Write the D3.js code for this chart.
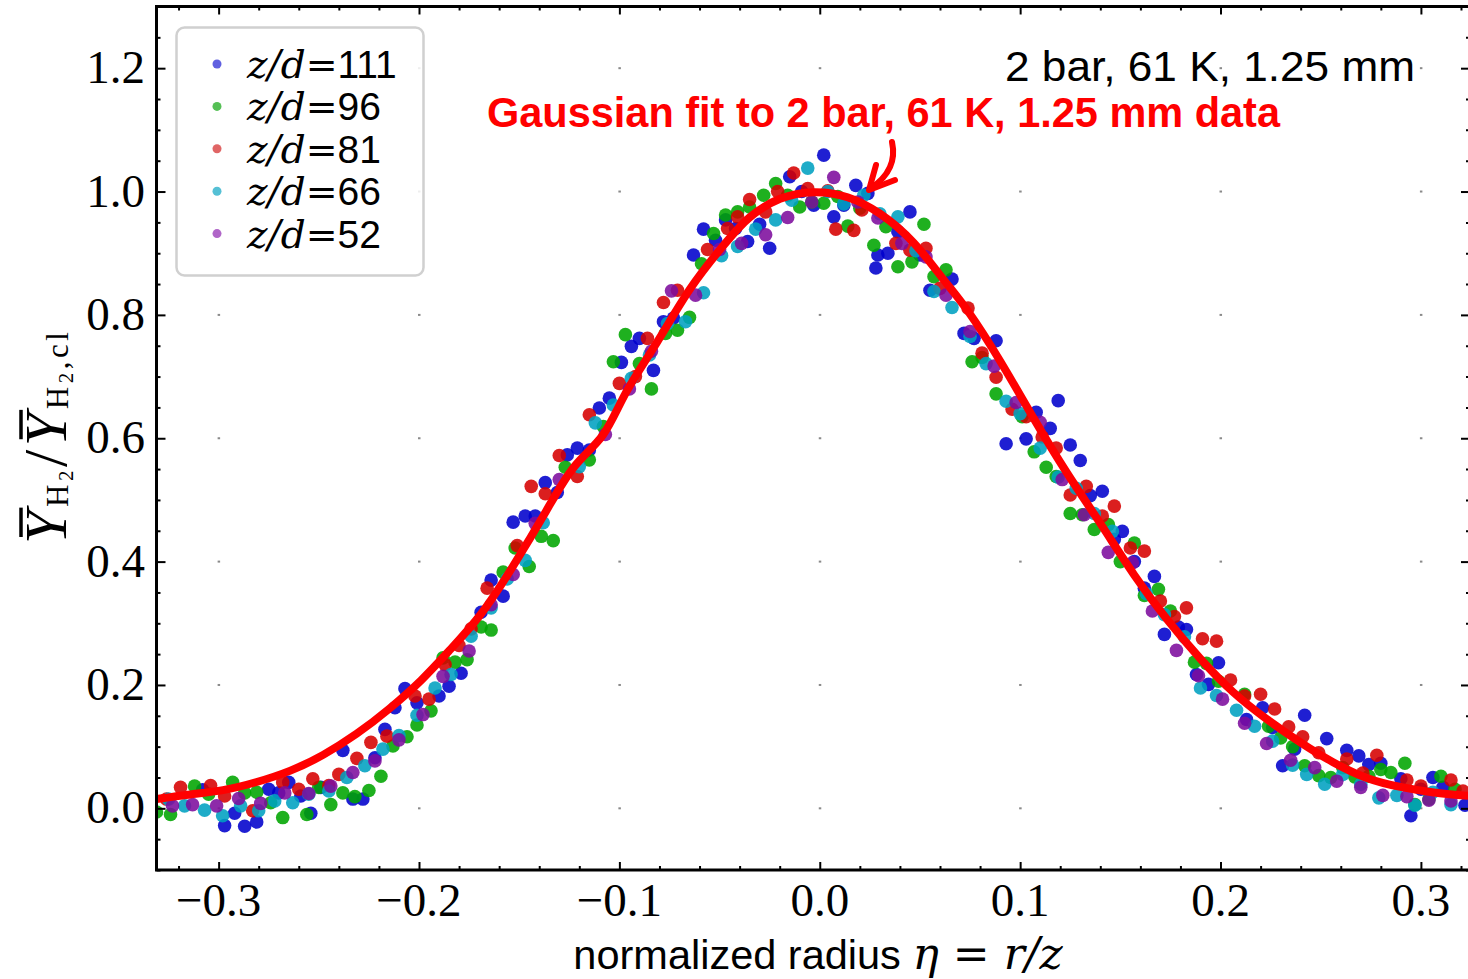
<!DOCTYPE html>
<html>
<head>
<meta charset="utf-8">
<script src="https://cdn.jsdelivr.net/npm/d3@7"></script>
<style>
    html, body { margin: 0; padding: 0; background: #fff; }
    svg { display: block; }
</style>
</head>
<body>
<div class="canvas"></div>
<script>
// Datas: [eta, normalized mass fraction]
const z111 = [
    [-0.308,0.030],[-0.297,-0.028],[-0.292,-0.008],[-0.287,-0.029],[-0.281,-0.022],[-0.275,0.031],
    [-0.270,0.025],[-0.265,0.042],[-0.259,0.020],[-0.254,-0.008],[-0.249,0.034],[-0.238,0.094],
    [-0.233,0.015],[-0.228,0.015],[-0.222,0.082],[-0.217,0.128],[-0.212,0.163],[-0.207,0.194],
    [-0.201,0.171],[-0.190,0.182],[-0.185,0.198],[-0.179,0.219],[-0.169,0.318],[-0.164,0.370],
    [-0.158,0.344],[-0.153,0.464],[-0.147,0.474],[-0.142,0.474],[-0.137,0.528],[-0.131,0.512],
    [-0.126,0.573],[-0.121,0.584],[-0.115,0.581],[-0.110,0.649],[-0.105,0.665],[-0.099,0.723],
    [-0.094,0.749],[-0.090,0.762],[-0.083,0.710],[-0.078,0.789],[-0.073,0.795],[-0.063,0.897],
    [-0.058,0.939],[-0.052,0.921],[-0.047,0.954],[-0.042,0.940],[-0.036,0.919],[-0.030,0.947],
    [-0.025,0.908],[-0.015,1.024],[-0.009,1.000],[-0.003,0.978],[0.002,1.059],[0.007,0.959],
    [0.012,0.978],[0.018,1.010],[0.024,0.997],[0.029,0.897],[0.034,0.900],[0.028,0.876],
    [0.039,0.935],[0.045,0.967],[0.050,0.897],[0.055,0.840],[0.066,0.858],[0.072,0.770],
    [0.077,0.762],[0.088,0.758],[0.093,0.591],[0.103,0.599],[0.108,0.642],[0.115,0.616],
    [0.119,0.661],[0.125,0.589],[0.130,0.564],[0.135,0.507],[0.141,0.514],[0.147,0.436],
    [0.151,0.449],[0.157,0.400],[0.162,0.357],[0.167,0.376],[0.172,0.282],[0.179,0.294],
    [0.183,0.290],[0.188,0.217],[0.194,0.201],[0.199,0.236],[0.213,0.144],[0.221,0.163],
    [0.226,0.131],[0.231,0.069],[0.237,0.096],[0.242,0.151],[0.253,0.113],[0.263,0.094],
    [0.269,0.085],[0.274,0.071],[0.280,0.073],[0.290,0.048],[0.295,-0.012],[0.300,0.031],
    [0.306,0.050],[0.311,0.034],[0.322,0.005]
];
const z96 = [
    [-0.331,-0.006],[-0.324,-0.010],[-0.312,0.036],[-0.305,0.023],[-0.293,0.042],[-0.287,0.025],
    [-0.281,0.026],[-0.274,0.009],[-0.268,-0.015],[-0.256,-0.010],[-0.250,0.034],[-0.244,0.006],
    [-0.238,0.025],[-0.232,0.019],[-0.225,0.029],[-0.219,0.052],[-0.213,0.101],[-0.206,0.116],
    [-0.201,0.135],[-0.194,0.158],[-0.188,0.244],[-0.182,0.237],[-0.176,0.241],[-0.169,0.294],
    [-0.164,0.289],[-0.158,0.383],[-0.152,0.422],[-0.145,0.392],[-0.139,0.441],[-0.133,0.434],
    [-0.127,0.553],[-0.115,0.565],[-0.108,0.619],[-0.103,0.724],[-0.097,0.768],[-0.090,0.721],
    [-0.084,0.680],[-0.077,0.770],[-0.071,0.775],[-0.065,0.796],[-0.059,0.883],[-0.053,0.932],
    [-0.047,0.962],[-0.041,0.967],[-0.035,0.975],[-0.028,0.994],[-0.022,1.013],[-0.016,0.994],
    [-0.010,0.975],[-0.004,0.983],[0.002,0.981],[0.009,0.992],[0.014,0.944],[0.020,0.973],
    [0.027,0.913],[0.033,0.943],[0.039,0.878],[0.046,0.886],[0.052,0.947],[0.057,0.862],
    [0.063,0.873],[0.076,0.724],[0.081,0.731],[0.088,0.672],[0.101,0.635],[0.107,0.578],
    [0.113,0.553],[0.118,0.538],[0.125,0.478],[0.131,0.476],[0.137,0.452],[0.144,0.460],
    [0.150,0.400],[0.157,0.430],[0.162,0.345],[0.169,0.355],[0.175,0.320],[0.187,0.237],
    [0.193,0.235],[0.199,0.206],[0.212,0.185],[0.224,0.133],[0.230,0.114],[0.236,0.100],
    [0.242,0.069],[0.249,0.053],[0.255,0.050],[0.261,0.066],[0.267,0.051],[0.274,0.052],
    [0.280,0.063],[0.285,0.058],[0.292,0.073],[0.297,0.006],[0.304,0.015],[0.310,0.052],
    [0.317,0.031]
];
const z81 = [
    [-0.326,0.015],[-0.319,0.034],[-0.304,0.037],[-0.297,0.020],[-0.283,-0.004],[-0.268,0.042],
    [-0.260,0.031],[-0.253,0.048],[-0.245,0.037],[-0.240,0.055],[-0.231,0.081],[-0.224,0.107],
    [-0.216,0.117],[-0.202,0.182],[-0.195,0.177],[-0.187,0.233],[-0.180,0.264],[-0.174,0.291],
    [-0.166,0.357],[-0.151,0.426],[-0.144,0.522],[-0.137,0.510],[-0.130,0.572],[-0.121,0.538],
    [-0.115,0.638],[-0.100,0.689],[-0.092,0.700],[-0.086,0.762],[-0.078,0.820],[-0.071,0.840],
    [-0.056,0.906],[-0.046,0.940],[-0.041,0.959],[-0.035,0.987],[-0.027,0.967],[-0.021,1.000],
    [-0.013,1.030],[-0.006,1.005],[0.004,1.001],[0.008,0.939],[0.017,0.937],[0.021,0.970],
    [0.038,0.916],[0.045,0.905],[0.053,0.908],[0.060,0.843],[0.074,0.811],[0.081,0.738],
    [0.088,0.699],[0.096,0.647],[0.103,0.635],[0.111,0.602],[0.118,0.584],[0.125,0.508],
    [0.133,0.522],[0.141,0.474],[0.147,0.490],[0.155,0.422],[0.162,0.417],[0.170,0.336],
    [0.177,0.311],[0.183,0.325],[0.191,0.275],[0.198,0.271],[0.205,0.208],[0.212,0.182],
    [0.220,0.185],[0.227,0.161],[0.234,0.132],[0.241,0.116],[0.249,0.090],[0.263,0.080],
    [0.271,0.057],[0.278,0.086],[0.293,0.046],[0.300,0.036],[0.315,0.046],[0.321,0.028]
];
const z66 = [
    [-0.325,0.015],[-0.317,0.004],[-0.307,-0.003],[-0.298,-0.012],[-0.289,0.004],[-0.280,-0.004],
    [-0.272,0.012],[-0.263,0.009],[-0.255,0.023],[-0.245,0.028],[-0.236,0.050],[-0.227,0.069],
    [-0.218,0.096],[-0.210,0.118],[-0.201,0.151],[-0.192,0.195],[-0.184,0.217],[-0.174,0.279],
    [-0.164,0.325],[-0.156,0.372],[-0.147,0.402],[-0.138,0.463],[-0.120,0.554],[-0.112,0.625],
    [-0.103,0.654],[-0.094,0.697],[-0.085,0.735],[-0.076,0.786],[-0.067,0.789],[-0.058,0.836],
    [-0.049,0.896],[-0.041,0.911],[-0.032,0.939],[-0.022,0.954],[-0.014,0.986],[-0.006,1.038],
    [0.004,1.000],[0.012,0.980],[0.022,0.994],[0.030,0.964],[0.039,0.959],[0.048,0.904],
    [0.057,0.838],[0.066,0.812],[0.075,0.765],[0.083,0.721],[0.093,0.660],[0.100,0.640],
    [0.110,0.584],[0.119,0.537],[0.128,0.519],[0.137,0.478],[0.146,0.449],[0.163,0.348],
    [0.172,0.314],[0.182,0.278],[0.190,0.195],[0.198,0.183],[0.208,0.159],[0.217,0.133],
    [0.226,0.109],[0.236,0.070],[0.243,0.055],[0.252,0.039],[0.261,0.055],[0.270,0.039],
    [0.279,0.017],[0.288,0.021],[0.297,0.005],[0.306,0.026],[0.315,0.006]
];
const z52 = [
    [-0.323,0.004],[-0.313,0.006],[-0.301,0.004],[-0.290,0.016],[-0.279,0.008],[-0.267,0.025],
    [-0.255,0.024],[-0.244,0.036],[-0.233,0.058],[-0.222,0.077],[-0.210,0.111],[-0.198,0.152],
    [-0.188,0.214],[-0.175,0.255],[-0.164,0.330],[-0.153,0.379],[-0.142,0.462],[-0.130,0.533],
    [-0.107,0.606],[-0.095,0.680],[-0.084,0.741],[-0.074,0.839],[-0.062,0.832],[-0.050,0.906],
    [-0.039,0.916],[-0.027,0.930],[-0.016,0.958],[-0.004,0.983],[0.007,1.023],[0.019,0.983],
    [0.029,0.957],[0.041,0.916],[0.053,0.894],[0.063,0.832],[0.075,0.773],[0.087,0.717],
    [0.098,0.658],[0.110,0.626],[0.121,0.533],[0.132,0.476],[0.144,0.415],[0.156,0.398],
    [0.166,0.320],[0.178,0.256],[0.189,0.215],[0.201,0.177],[0.212,0.138],[0.223,0.105],
    [0.235,0.078],[0.247,0.066],[0.258,0.044],[0.270,0.034],[0.281,0.021],[0.293,0.019],
    [0.304,0.013],[0.315,0.012]
];

// Gaussian fit curve
const fitEta = [-0.331,-0.314,-0.298,-0.281,-0.264,-0.248,-0.231,-0.215,-0.198,-0.186,-0.169,-0.153,
    -0.136,-0.123,-0.107,-0.098,-0.081,-0.065,-0.046,-0.036,-0.020,-0.003,0.014,0.030,0.047,0.063,
    0.073,0.090,0.107,0.123,0.140,0.157,0.173,0.190,0.206,0.223,0.240,0.256,0.273,0.290,0.306,0.3245];
const fitValue = [0.015,0.023,0.028,0.042,0.060,0.085,0.120,0.160,0.209,0.252,0.311,0.392,
    0.484,0.560,0.600,0.673,0.754,0.846,0.921,0.959,0.992,1.002,0.994,0.967,0.921,0.851,
    0.813,0.727,0.630,0.544,0.463,0.376,0.306,0.241,0.187,0.144,0.106,0.074,0.047,0.034,0.025,0.020];

const seriesNames = ['111', '96', '81', '66', '52'];
const xMajorTicks = [-0.3, -0.2, -0.1, 0.0, 0.1, 0.2, 0.3];
const yMajorTicks = [0.0, 0.2, 0.4, 0.6, 0.8, 1.0, 1.2];

const chart = {
    dims: {
        width: 1468,
        height: 979,
        left: 156.5,
        right: 1470,
        top: 6.5,
        bottom: 870,
    },
    colors: ['#0000cc', '#00a500', '#d60000', '#00a0c0', '#7d0c9d'],
    legendColors: ['#6060e0', '#55c055', '#e06565', '#55c0d5', '#b066c8'],
    svg: null,
    x: null,
    y: null,

    init: function() {
        const d = chart.dims;
        chart.svg = d3.select('.canvas').append('svg')
            .attr('width', d.width)
            .attr('height', d.height);

        chart.x = d3.scaleLinear().domain([-0.331, 0.3245]).range([d.left, d.right]);
        chart.y = d3.scaleLinear().domain([-0.1, 1.3]).range([d.bottom, d.top]);

        chart.svg.append('clipPath').attr('id', 'plot-clip')
            .append('rect')
            .attr('x', d.left).attr('y', d.top)
            .attr('width', d.right - d.left).attr('height', d.bottom - d.top);

        chart.drawGrid();
        chart.drawPoints();
        chart.drawFit();
        chart.drawAxes();
        chart.drawLegend();
        chart.drawLabels();
        chart.drawAnnotations();
    },

    drawGrid: function() {
        const cells = [];
        xMajorTicks.forEach(a => yMajorTicks.forEach(b => cells.push([a, b])));
        chart.svg.append('g').selectAll('rect')
            .data(cells)
            .enter().append('rect')
            .attr('x', c => chart.x(c[0]) - 1)
            .attr('y', c => chart.y(c[1]) - 1)
            .attr('width', 2.5)
            .attr('height', 2)
            .attr('fill', '#8a8a8a');
    },

    drawPoints: function() {
        const all = [z111, z96, z81, z66, z52];
        const g = chart.svg.append('g').attr('clip-path', 'url(#plot-clip)');
        all.forEach((pts, i) => {
            g.append('g').selectAll('circle')
                .data(pts)
                .enter().append('circle')
                .attr('cx', p => chart.x(p[0]))
                .attr('cy', p => chart.y(p[1]))
                .attr('r', 6.8)
                .attr('fill', chart.colors[i])
                .attr('fill-opacity', 0.88);
        });
    },

    drawFit: function() {
        const line = d3.line()
            .x((e, i) => chart.x(e))
            .y((e, i) => chart.y(fitValue[i]))
            .curve(d3.curveBasis);
        chart.svg.append('path')
            .attr('clip-path', 'url(#plot-clip)')
            .attr('d', line(fitEta))
            .attr('fill', 'none')
            .attr('stroke', '#ff0000')
            .attr('stroke-width', 8)
            .attr('stroke-linecap', 'round');
    },

    drawAxes: function() {
        const d = chart.dims;
        const xMinor = d3.range(-0.32, 0.33, 0.02).filter(v => !xMajorTicks.some(m => Math.abs(m - v) < 1e-6));
        const yMinor = d3.range(-0.1, 1.31, 0.05).filter(v => !yMajorTicks.some(m => Math.abs(m - v) < 1e-6));

        const addAxis = (gen, scale, values, size, transform) => {
            const g = chart.svg.append('g')
                .attr('transform', transform)
                .call(gen(scale).tickValues(values).tickSize(size).tickSizeOuter(0).tickFormat(''));
            g.select('.domain').remove();
            g.selectAll('line').attr('stroke', '#000').attr('stroke-width', 2);
        };

        addAxis(d3.axisBottom, chart.x, xMajorTicks, -8, `translate(0,${d.bottom})`);
        addAxis(d3.axisBottom, chart.x, xMinor, -4, `translate(0,${d.bottom})`);
        addAxis(d3.axisTop, chart.x, xMajorTicks, -8, `translate(0,${d.top})`);
        addAxis(d3.axisTop, chart.x, xMinor, -4, `translate(0,${d.top})`);
        addAxis(d3.axisLeft, chart.y, yMajorTicks, -9, `translate(${d.left},0)`);
        addAxis(d3.axisLeft, chart.y, yMinor, -4, `translate(${d.left},0)`);
        addAxis(d3.axisRight, chart.y, yMajorTicks, -9, `translate(${d.right},0)`);
        addAxis(d3.axisRight, chart.y, yMinor, -4, `translate(${d.right},0)`);

        // Frame
        chart.svg.append('rect')
            .attr('x', d.left).attr('y', d.top)
            .attr('width', d.right - d.left).attr('height', d.bottom - d.top)
            .attr('fill', 'none')
            .attr('stroke', '#000')
            .attr('stroke-width', 3);

        // Tick labels
        const fmt = d3.format('.1f');
        chart.svg.append('g').selectAll('text')
            .data(xMajorTicks)
            .enter().append('text')
            .attr('x', v => chart.x(v))
            .attr('y', 916)
            .attr('text-anchor', 'middle')
            .style('font-family', '"Liberation Serif", serif')
            .style('font-size', '47px')
            .text(v => fmt(v));

        chart.svg.append('g').selectAll('text')
            .data(yMajorTicks)
            .enter().append('text')
            .attr('x', 145)
            .attr('y', v => chart.y(v) + 15)
            .attr('text-anchor', 'end')
            .style('font-family', '"Liberation Serif", serif')
            .style('font-size', '47px')
            .text(v => fmt(v));
    },

    drawLegend: function() {
        const g = chart.svg.append('g');
        g.append('rect')
            .attr('x', 176.5).attr('y', 27.5)
            .attr('width', 247).attr('height', 248)
            .attr('rx', 8)
            .attr('fill', '#fff')
            .attr('fill-opacity', 0.85)
            .attr('stroke', '#d0d0d0')
            .attr('stroke-width', 2.5);

        const rows = g.selectAll('.row')
            .data(seriesNames)
            .enter().append('g')
            .attr('class', 'row')
            .attr('transform', (s, i) => `translate(217, ${64 + i * 42.4})`);

        rows.append('circle')
            .attr('r', 4.5)
            .attr('fill', (s, i) => chart.legendColors[i]);

        const label = rows.append('text')
            .attr('x', 30)
            .attr('y', 14);
        label.append('tspan')
            .style('font-family', '"DejaVu Serif", serif')
            .style('font-style', 'italic')
            .style('font-size', '39px')
            .text('z/d');
        label.append('tspan')
            .style('font-family', '"DejaVu Serif", serif')
            .style('font-size', '38px')
            .text('=');
        label.append('tspan')
            .style('font-family', '"Liberation Sans", sans-serif')
            .style('font-size', '39px')
            .text(s => s);
    },

    drawLabels: function() {
        // X label
        const xl = chart.svg.append('text')
            .attr('x', 818)
            .attr('y', 969)
            .attr('text-anchor', 'middle');
        xl.append('tspan')
            .style('font-family', '"Liberation Sans", sans-serif')
            .style('font-size', '41.5px')
            .text('normalized radius ');
        xl.append('tspan')
            .style('font-family', '"DejaVu Serif", serif')
            .style('font-style', 'italic')
            .style('font-size', '44px')
            .text('η');
        xl.append('tspan')
            .style('font-family', '"DejaVu Serif", serif')
            .style('font-size', '44px')
            .text(' = ');
        xl.append('tspan')
            .style('font-family', '"DejaVu Serif", serif')
            .style('font-style', 'italic')
            .style('font-size', '44px')
            .text('r/z');

        // Y label, rotated; overlines are drawn from the glyph extents
        const g = chart.svg.append('g')
            .attr('transform', 'translate(66, 438) rotate(-90)');
        const yl = g.append('text')
            .attr('text-anchor', 'middle')
            .style('font-family', '"Liberation Serif", serif');
        const part = (txt, size, dy, italic) => {
            yl.append('tspan')
                .attr('dy', dy)
                .style('font-size', size + 'px')
                .style('font-style', italic ? 'italic' : 'normal')
                .text(txt);
        };
        part('Y', 60, 0, true);
        part('H', 31, 2, false);
        part('2', 21, 5, false);
        part('/', 62, -7, false);
        part('Y', 60, 0, true);
        part('H', 31, 2, false);
        part('2', 21, 5, false);
        part(',cl', 31, -5, false);
        yl.attr('textLength', 212).attr('lengthAdjust', 'spacing');

        [0, 4].forEach(idx => {
            const ext = yl.node().getExtentOfChar(idx);
            g.append('line')
                .attr('x1', ext.x + 7)
                .attr('x2', ext.x + ext.width + 3)
                .attr('y1', -45)
                .attr('y2', -45)
                .attr('stroke', '#000')
                .attr('stroke-width', 3.5);
        });
    },

    drawAnnotations: function() {
        chart.svg.append('text')
            .attr('x', 1005)
            .attr('y', 81)
            .attr('textLength', 410)
            .attr('lengthAdjust', 'spacingAndGlyphs')
            .style('font-family', '"Liberation Sans", sans-serif')
            .style('font-size', '43px')
            .attr('fill', '#000')
            .text('2 bar, 61 K, 1.25 mm');

        chart.svg.append('text')
            .attr('x', 487)
            .attr('y', 127)
            .attr('textLength', 793)
            .attr('lengthAdjust', 'spacingAndGlyphs')
            .style('font-family', '"Liberation Sans", sans-serif')
            .style('font-weight', 'bold')
            .style('font-size', '43px')
            .attr('fill', '#ff0000')
            .text('Gaussian fit to 2 bar, 61 K, 1.25 mm data');

        // Arrow pointing at the fit peak
        const g = chart.svg.append('g')
            .attr('fill', 'none')
            .attr('stroke', '#ff0000')
            .attr('stroke-width', 6)
            .attr('stroke-linecap', 'round')
            .attr('stroke-linejoin', 'round');
        g.append('path').attr('d', 'M892,142 C896,160 889,176 871,188');
        g.append('path').attr('d', 'M876,165 L869,190 L895,180');
    },
};

document.addEventListener('DOMContentLoaded', chart.init);
</script>
</body>
</html>
